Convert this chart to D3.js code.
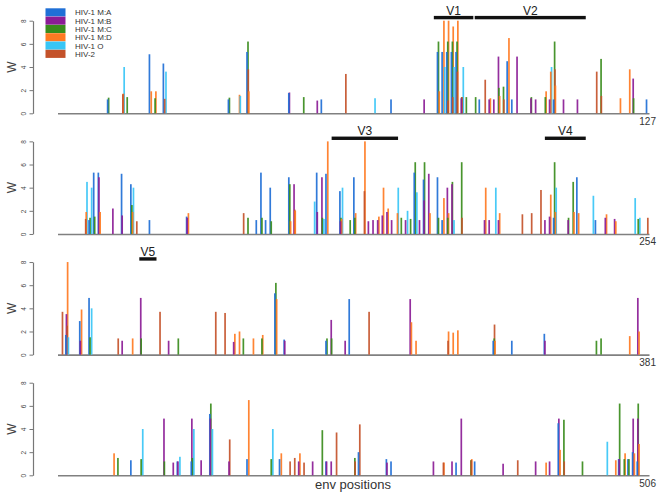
<!DOCTYPE html>
<html><head><meta charset="utf-8">
<script src="https://cdn.jsdelivr.net/npm/d3@7"></script>
<style>body{margin:0;background:#fff}svg{display:block;font-family:"Liberation Sans",Arial,sans-serif}</style>
</head><body><svg id="c" width="661" height="498"></svg>
<script>
const seriesNames = ["HIV-1 M:A","HIV-1 M:B","HIV-1 M:C","HIV-1 M:D","HIV-1 O","HIV-2"];
const seriesColors = ["#1f6fd6","#8b1c96","#3a8c1c","#ff7a22","#38c6f6","#c4522a"];

// [env position, W]
const seriesA = [[11,1.2],[20,5.1],[23,4.3],[37,1.2],[41,5.3],[50,1.75],[57,1.2],[72,1.2],[82,5.3],[83,5.3],[84,5.3],[85,5.3],[86,5.3],[91,1.2],[97,4.5],[98,1.2],[107,1.2],[127,1.2],
 [134,1.2],[135,5.3],[136,5.3],[141,5.2],[143,4.3],[147,1.2],[155,1.5],[170,1.2],[171,5.3],[172,1.2],[173,4.0],[177,4.9],[183,5.3],[185,5.2],[188,3.7],[191,4.9],[204,5.3],[206,4.7],[209,4.9],[210,1.2],[234,1.4],[239,4.9],[243,1.2],
 [256,1.7],[259,2.9],[261,4.9],[301,5.3],[303,1.3],[312,1.2],[317,4.8],[348,1.2],[352,1.2],[359,1.8],
 [397,1.3],[407,1.2],[410,1.2],[414,5.3],[422,1.4],[429,1.4],[439,1.2],[446,2.0],[452,1.4],[453,1.2],[467,1.1],[471,1.2],[489,4.5],[502,1.4],[504,1.4],[505,2.0],[506,1.2]];
const seriesB = [[50,1.8],[56,1.1],[79,1.2],[87,1.3],[93,1.2],[94,1.2],[95,4.9],[99,4.9],[102,1.3],[103,1.2],[106,1.2],[109,1.2],[112,1.2],[124,3.0],
 [136,4.9],[139,2.2],[141,1.6],[155,1.4],[178,4.3],[183,1.9],[184,4.9],[188,1.1],[194,1.1],[195,1.2],[196,1.2],[197,1.6],[198,1.9],[199,1.2],[202,1.2],[205,1.2],[206,2.9],[207,5.2],[211,4.0],[212,4.3],[219,1.2],[220,1.2],[222,1.2],[232,1.2],[233,1.5],[237,1.2],[245,1.4],[247,1.3],
 [256,3.5],[259,1.2],[268,1.2],[272,4.9],[278,1.2],[292,1.1],[303,1.2],[313,3.0],[316,1.2],[330,4.8],[359,1.2],[379,4.9],
 [404,4.9],[406,1.1],[407,1.2],[410,4.9],[412,1.3],[414,4.9],[418,1.2],[433,1.2],[436,1.2],[439,1.2],[440,1.2],[452,1.1],[462,1.2],[466,1.2],[468,4.9],[477,1.0],[484,1.2],[487,1.2],[489,4.9],[502,1.4],[505,4.9],[506,4.9]];
const seriesC = [[11,1.35],[15,1.4],[21,1.3],[37,1.35],[41,6.2],[53,1.4],[82,6.2],[84,6.2],[85,6.2],[86,6.2],[87,1.4],[88,1.4],[90,1.4],[95,2.2],[96,2.3],[102,1.4],[105,1.4],[107,6.2],[117,4.7],[124,1.3],
 [134,1.4],[135,1.5],[143,2.5],[168,1.4],[171,1.4],[173,1.1],[177,4.3],[184,1.4],[188,1.4],[190,1.2],[191,1.4],[201,1.4],[203,1.3],[204,6.2],[206,6.2],[209,1.4],[211,1.4],[212,4.5],[214,6.2],[234,6.2],[237,1.4],[238,4.5],[252,1.3],
 [261,1.5],[272,1.4],[280,1.4],[294,1.4],[298,1.4],[301,6.2],[312,1.4],[313,1.4],[348,1.4],[370,1.2],[371,1.4],
 [394,1.5],[399,1.4],[404,1.2],[410,1.5],[414,6.2],[427,1.4],[438,3.9],[445,1.5],[470,1.3],[490,4.8],[494,1.2],[502,6.2],[503,1.4],[504,1.4],[506,6.2]];
const seriesD = [[14,1.7],[20,1.9],[21,1.9],[39,1.6],[41,1.9],[82,1.9],[83,8.0],[84,8.0],[85,7.5],[86,8.0],[93,1.3],[95,1.5],[97,6.5],[105,1.9],[106,3.6],[107,2.4],[121,1.3],[123,3.8],
 [133,1.9],[136,1.9],[143,1.9],[155,1.8],[177,1.1],[178,2.0],[185,8.0],[188,1.3],[191,1.8],[193,8.0],[196,1.5],[197,4.0],[198,2.2],[200,1.8],[207,1.8],[210,3.1],[211,1.8],[219,4.0],[222,1.8],[233,3.4],[234,1.9],[238,1.9],[239,1.8],[245,1.7],[247,1.1],
 [256,8.0],[259,3.9],[270,1.4],[292,1.8],[293,2.0],[296,1.4],[298,1.7],[301,4.8],[330,2.8],[331,1.2],[338,2.0],[339,1.9],[340,2.1],[348,1.2],[377,1.6],[379,2.0],
 [393,1.9],[422,6.5],[429,1.9],[433,1.9],[464,1.1],[470,1.4],[486,1.1],[489,2.2],[501,1.3],[503,1.9],[505,1.9],[506,2.7]];
const seriesO = [[14,4.0],[23,3.6],[39,1.5],[68,1.3],[83,4.0],[85,4.0],[87,4.0],[106,4.0],
 [133,4.5],[134,4.0],[143,4.0],[182,2.8],[184,1.3],[188,4.0],[200,4.0],[202,2.0],[204,3.6],[212,1.2],[221,4.0],[234,4.0],[242,3.3],[251,3.1],[252,1.4],
 [256,1.5],[261,4.0],
 [399,4.0],[407,1.6],[410,4.0],[414,4.0],[427,4.0],[499,2.9]];
const seriesH2 = [[14,1.65],[23,1.25],[41,3.8],[62,3.4],[84,1.1],[85,1.4],[86,3.6],[87,1.4],[92,2.9],[96,1.2],[107,3.8],[116,3.6],[117,1.5],
 [133,1.3],[144,1.1],[167,1.8],[178,2.1],[193,3.7],[214,1.4],[227,1.7],[229,1.8],[231,3.8],[254,1.4],
 [255,3.7],[256,2.5],[267,1.4],[276,3.7],[288,3.7],[290,3.6],[321,3.7],[338,1.2],[348,2.6],
 [418,3.1],[431,1.2],[432,1.5],[434,1.1],[441,3.7],[445,1.2],[446,4.4],[464,1.1],[470,1.3],[480,1.3],[490,1.2]];

const panelStarts = [0,127,254,381];
const panelEnds = [127,254,381,506];
const yTicks = [0,2,4,6,8];
const regions = [["V1",81.4,89.9],["V2",90.2,114.1],["V3",186.4,200.7],["V4",232.3,241.1],["V5",272,275.7]];
const xTitle = "env positions";
const yTitle = "W";

const allSeries = [seriesA,seriesB,seriesC,seriesD,seriesO,seriesH2];
const offsets = [0,0.6,1.0,1.8,2.6,1.3];
const svg = d3.select("#c");
const panelTop0 = 20.7, panelStep = 120.67, panelH = 92.6;
const x = d3.scaleLinear().domain([0.5,127.5]).range([58,648]);

panelStarts.forEach((start,pi)=>{
  const top = panelTop0 + pi*panelStep, base = top + panelH;
  const y = d3.scaleLinear().domain([0,8]).range([base, top]);
  const g = svg.append("g");
  // y axis
  const ya = g.append("g").attr("transform",`translate(33,0)`)
    .call(d3.axisLeft(y).tickValues(yTicks).tickSize(3.5).tickSizeOuter(0));
  ya.select(".domain").attr("stroke","#777").attr("stroke-width",1.2);
  ya.selectAll(".tick line").attr("stroke","#777");
  ya.selectAll(".tick text").attr("x",0).attr("y",0).attr("dy",null)
    .attr("transform","translate(-7,0) rotate(-90)").attr("text-anchor","middle")
    .attr("font-size",6.5).attr("fill","#444").attr("font-family","Liberation Sans, Arial, sans-serif");
  g.append("text").attr("transform",`translate(15.5,${(top+base)/2}) rotate(-90)`)
    .attr("text-anchor","middle").attr("font-size",12).attr("fill","#444").text(yTitle);
  // x axis line
  const xa = g.append("g").attr("transform",`translate(0,${base})`)
    .call(d3.axisBottom(d3.scaleLinear().domain([0,1]).range([57.5,649])).tickValues([]).tickSizeOuter(0));
  xa.select(".domain").attr("stroke","#808080").attr("stroke-width",1.6);
  g.append("text").attr("x",656).attr("y",base+11.5).attr("text-anchor","end")
    .attr("font-size",10).attr("fill","#333").text(panelEnds[pi]);
  // bars
  const bars = [];
  allSeries.forEach((arr,si)=>arr.forEach(([p,v])=>{
    if(p>start && p<=panelEnds[pi]) bars.push({p:p-start,v,si});
  }));
  bars.sort((a,b)=>a.p-b.p || b.v-a.v);
  g.selectAll("rect.bar").data(bars).join("rect").attr("class","bar")
    .attr("x",d=>x(d.p)+offsets[d.si]).attr("width",1.7)
    .attr("y",d=>y(d.v)).attr("height",d=>base-y(d.v))
    .attr("fill",d=>seriesColors[d.si]).attr("opacity",0.92);
  // regions
  regions.filter(r=>r[1]>start && r[1]<=panelEnds[pi]).forEach(r=>{
    const x0 = x(r[1]-start), x1 = x(r[2]-start);
    g.append("rect").attr("x",x0).attr("width",x1-x0).attr("y",top-4.8).attr("height",3.4).attr("fill","#111");
    g.append("text").attr("x",(x0+x1)/2).attr("y",top-6).attr("text-anchor","middle")
      .attr("font-size",12).attr("fill","#222").text(r[0]);
  });
});

// legend
const lg = svg.append("g");
seriesNames.forEach((n,i)=>{
  lg.append("rect").attr("x",45.5).attr("y",8.3+i*8.3).attr("width",20).attr("height",8.1).attr("fill",seriesColors[i]);
  lg.append("text").attr("x",75).attr("y",8.3+i*8.3+7).attr("font-size",8).attr("fill","#333").text(n);
});
svg.append("text").attr("x",353).attr("y",489).attr("text-anchor","middle").attr("font-size",13).attr("fill","#333").text(xTitle);
</script></body></html>
